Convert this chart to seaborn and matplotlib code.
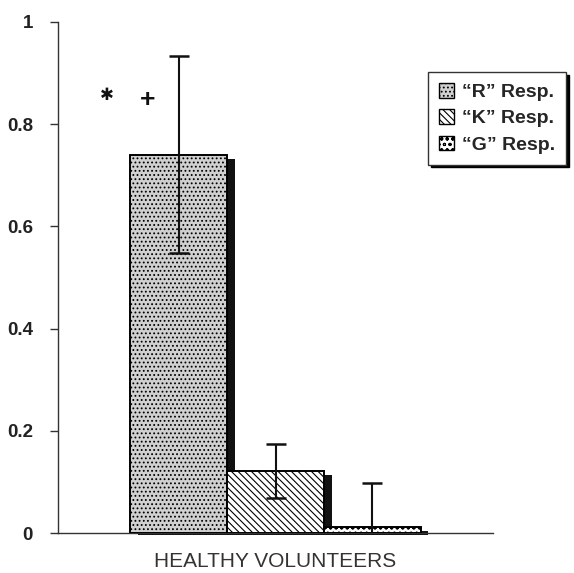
import matplotlib
matplotlib.use("Agg")
import matplotlib.pyplot as plt
import seaborn as sns
import pandas as pd
from matplotlib.patches import Patch, Rectangle

# ---- data ----
group = ["HEALTHY VOLUNTEERS"]
responses = ["\u201cR\u201d Resp.", "\u201cK\u201d Resp.", "\u201cG\u201d Resp."]
values = [0.74, 0.122, 0.012]
errors = [0.193, 0.053, 0.086]
yticks = [0, 0.2, 0.4, 0.6, 0.8, 1.0]
ytick_labels = ["0", "0.2", "0.4", "0.6", "0.8", "1"]
markers = ["\u2731", "+"]

df = pd.DataFrame({"group": group * len(responses), "resp": responses, "value": values})

sns.set_style("white")
plt.rcParams["font.family"] = ["Liberation Sans", "DejaVu Sans"]
plt.rcParams["hatch.linewidth"] = 0.8

fig = plt.figure(figsize=(5.74, 5.73), dpi=100)
ax = fig.add_axes([0.101, 0.0698, 0.758, 0.892])

faces = ["#d0d0d0", "white", "white"]
hatches = ["....", "\\\\\\\\\\", "ooo"]

sns.barplot(data=df, x="group", y="value", hue="resp", hue_order=responses,
            palette=faces, width=0.667, gap=0, errorbar=None, legend=False,
            edgecolor="black", linewidth=1.4, ax=ax, zorder=3)

bars = [p for p in ax.patches if isinstance(p, Rectangle)][:3]
dx = 0.018
dy = 0.008
centers = []
for b, h in zip(bars, hatches):
    b.set_hatch(h)
    b.set_zorder(3)
    centers.append(b.get_x() + b.get_width() / 2)
    sh = Rectangle((b.get_x() + dx, -0.004), b.get_width(), b.get_height() - dy + 0.004,
                   facecolor="#111111", edgecolor="none", zorder=2, clip_on=False)
    ax.add_patch(sh)

ax.errorbar(centers, values, yerr=errors, fmt="none", ecolor="#111111",
            elinewidth=1.5, capsize=7, capthick=1.8, zorder=4)

ax.set_xlim(-0.5, 0.5)
ax.set_ylim(0, 1)
ax.set_yticks(yticks)
ax.set_yticklabels(ytick_labels, fontsize=13.5, fontweight="bold", color="#222222")
ax.set_ylabel("")
ax.set_xlabel("")
ax.set_xticks([0])
ax.set_xticklabels(group, fontsize=15, color="#333333")
ax.tick_params(axis="x", length=0, pad=14)
ax.tick_params(axis="y", length=6, width=1, color="#333333", left=True, pad=12)
for s in ["top", "right"]:
    ax.spines[s].set_visible(False)
for s in ["left", "bottom"]:
    ax.spines[s].set_color("#333333")
    ax.spines[s].set_linewidth(1.0)

ax.text(-0.387, 0.857, markers[0], fontsize=12, family="DejaVu Sans", ha="center", va="center", color="#111111")
ax.text(-0.295, 0.847, markers[1], fontsize=19, fontweight="bold", ha="center", va="center", color="#111111")

handles = [Patch(facecolor=f, edgecolor="black", hatch=h, label=r, linewidth=1.0)
           for f, h, r in zip(faces, hatches, responses)]
leg = ax.legend(handles=handles, loc="upper left", bbox_to_anchor=(0.746, 0.874),
                bbox_transform=fig.transFigure, frameon=True, fancybox=False,
                shadow={"color": "black", "alpha": 1.0}, prop={"weight": "bold", "size": 14},
                handlelength=0.8, handleheight=0.8, handletextpad=0.4, labelspacing=0.42,
                borderpad=0.55, borderaxespad=0)
leg.get_frame().set_edgecolor("#333333")
leg.get_frame().set_linewidth(1.0)

fig.savefig("out.png", dpi=100)
